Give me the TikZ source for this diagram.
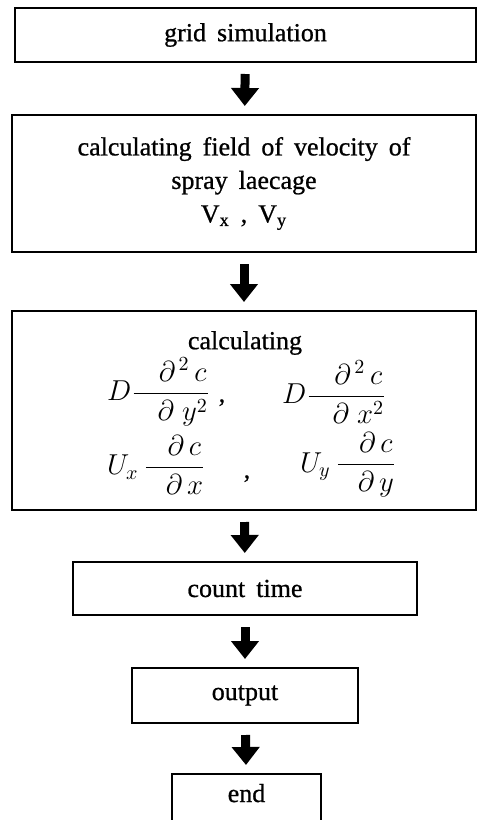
\documentclass[tikz,border=0pt]{standalone}
\usepackage{amsmath,amssymb}
\usepackage{fontspec}
\setmainfont{Liberation Serif}[FakeBold=0.8]
\usepackage{tikz}
\usetikzlibrary{arrows.meta}

\newcommand{\pfrac}[3]{\dfrac{\hspace{#1}#2}{\hspace{#1}#3}}
\newcommand{\wordgap}{\spaceskip=5.5pt plus 1pt\relax}

\begin{document}
\begin{tikzpicture}[
  x=0.5pt, y=-0.5pt,
  every node/.style={inner sep=0pt, outer sep=0pt,
    font=\fontsize{13pt}{16.75pt}\selectfont\wordgap},
  procbox/.style={rectangle, draw, line width=0.8pt, align=center},
  term/.style={anchor=west, font=\fontsize{14pt}{17pt}\selectfont},
  sep/.style={anchor=base},
  flow/.style={line width=4.5pt, -{Triangle[width=13.5pt, length=9pt]}, shorten <=6pt, shorten >=4.5pt},
]
\useasboundingbox (0,0) rectangle (477,820);
% steps
\node[procbox, minimum width=230.5pt, minimum height=27pt] (grid) at (245.5,35) {grid simulation};
\node[procbox, minimum width=232pt, minimum height=68.5pt] (field) at (244,183.5)
  {calculating field of velocity of\\ spray laecage\\ V\textsubscript{x} , V\textsubscript{y}};
\node[procbox, minimum width=232pt, minimum height=99.5pt] (calc) at (244,410.5) {};
\node[procbox, minimum width=172pt, minimum height=26.5pt] (count) at (245,588.5) {count time};
\node[procbox, minimum width=113pt, minimum height=27.5pt] (out) at (245,695.5) {output};
\node[procbox, minimum width=74.5pt, minimum height=26pt, text depth=7pt] (stop) at (246.5,800) {end};
% terms inside the calculating box
\node (calctitle) at (245,343) {calculating};
\node[term] (dyy) at (107,392) {$D\pfrac{12pt}{\partial^{\,2}\,c}{\partial\;y^{2}}$};
\node[sep] (comma1) at (222,402) {,};
\node[term] (dxx) at (282,392) {$D\pfrac{12pt}{\partial^{\,2}\,c}{\partial\;x^{2}}$};
\node[term] (uxc) at (107,465) {$U_{x}\,\pfrac{10pt}{\partial\,c}{\partial\,x}$};
\node[sep] (comma2) at (247,478) {,};
\node[term] (uyc) at (300,465) {$U_{y}\,\pfrac{10pt}{\partial\,c}{\partial\,y}$};
% arrows
\draw[flow] (grid) -- (field);
\draw[flow] (field) -- (calc);
\draw[flow] (calc) -- (count);
\draw[flow] (count) -- (out);
\draw[flow] (out) -- (stop);
\end{tikzpicture}
\end{document}
